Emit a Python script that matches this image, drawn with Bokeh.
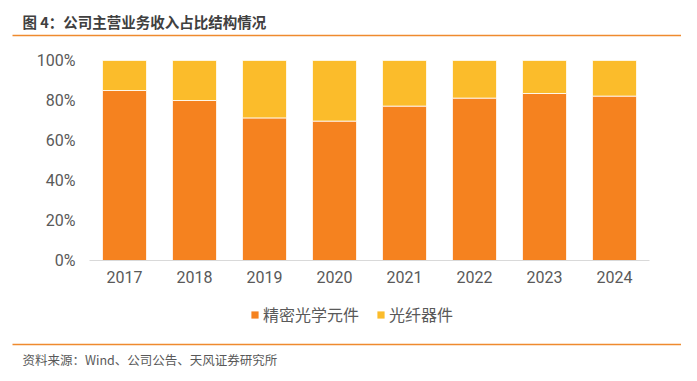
from bokeh.plotting import figure
from bokeh.layouts import column
from bokeh.models import (ColumnDataSource, FactorRange, NumeralTickFormatter, FixedTicker,
                          Legend, LegendItem, Range1d)
from bokeh.core.properties import value
from bokeh.embed import file_html
from bokeh.resources import INLINE

years = ["2017", "2018", "2019", "2020", "2021", "2022", "2023", "2024"]
optics = [0.85, 0.80, 0.713, 0.697, 0.772, 0.812, 0.835, 0.822]
fiber = [0.15, 0.20, 0.287, 0.303, 0.228, 0.188, 0.165, 0.178]
series_names = ["精密光学元件", "光纤器件"]
series_colors = ["#F5821F", "#FBBC2B"]
y_ticks = [0, 0.2, 0.4, 0.6, 0.8, 1.0]
title_text = "图 4：公司主营业务收入占比结构情况"
source_text = "资料来源：Wind、公司公告、天风证券研究所"

W = 681
cjk = "Noto Sans CJK SC"
num_font = "Roboto"
label_color = "#595959"
rule_color = "#EF8A2E"


def blank_fig(h):
    f = figure(width=W, height=h, x_range=Range1d(0, W), y_range=Range1d(h, 0),
               output_backend="svg", toolbar_location=None, min_border=0,
               x_axis_location=None, y_axis_location=None, frame_align=False)
    f.outline_line_color = None
    f.xgrid.visible = False
    f.ygrid.visible = False
    return f


# header
top = blank_fig(40)
top.text(x=[22], y=[21], text=[title_text], text_font=value(cjk), text_font_size="14.5px",
         text_font_style="bold", text_color="#404040", text_baseline="middle")
top.segment(x0=[12], y0=[35], x1=[W], y1=[35], line_color=rule_color, line_width=1.5)

# main chart
src = ColumnDataSource(dict(year=years, optics=optics, fiber=fiber))
p = figure(width=W, height=251, x_range=FactorRange(*years, range_padding=0),
           y_range=Range1d(0, 1), output_backend="svg", toolbar_location=None,
           min_border_left=89, min_border_right=32, min_border_top=20, min_border_bottom=31,
           frame_align=False)
p.outline_line_color = None
p.xgrid.visible = False
p.ygrid.visible = False

p.vbar_stack(["optics", "fiber"], x="year", width=0.63, source=src,
             color=series_colors, line_color="white", line_width=0.8)

p.yaxis.ticker = FixedTicker(ticks=y_ticks)
p.yaxis.formatter = NumeralTickFormatter(format="0%")
p.yaxis.axis_line_color = None
p.yaxis.major_tick_line_color = None
p.yaxis.minor_tick_line_color = None
p.yaxis.major_tick_out = 0
p.yaxis.major_label_standoff = 14
p.yaxis.major_label_text_font = num_font
p.yaxis.major_label_text_font_size = "16px"
p.yaxis.major_label_text_color = label_color

p.xaxis.axis_line_color = "#D9D9D9"
p.xaxis.axis_line_width = 1
p.xaxis.major_tick_line_color = None
p.xaxis.major_tick_out = 0
p.xaxis.major_label_standoff = 10
p.xaxis.major_label_text_font = num_font
p.xaxis.major_label_text_font_size = "16px"
p.xaxis.major_label_text_color = label_color

# footer with legend, rule and source
FH = 82
bot = blank_fig(FH)
# legend swatches: zero-height bars placed far outside the visible range
swatches = [bot.vbar(x=[-5000], top=[0], width=1, fill_color=c, line_color=None)
            for c in series_colors]
legend = Legend(items=[LegendItem(label=n, renderers=[r]) for n, r in zip(series_names, swatches)],
                orientation="horizontal", location=(250, FH - 35), padding=0, margin=0,
                glyph_width=9, glyph_height=9, label_standoff=4, spacing=17,
                label_text_font=cjk, label_text_font_size="16px", label_text_color=label_color,
                label_height=20, border_line_color=None, background_fill_alpha=0)
bot.add_layout(legend, "center")
bot.segment(x0=[12], y0=[53], x1=[W], y1=[53], line_color=rule_color, line_width=1.5)
bot.text(x=[22], y=[68], text=[source_text], text_font=value(cjk), text_font_size="12.5px",
         text_color="#595959", text_baseline="middle")

layout = column(top, p, bot, spacing=0)
open("out.html", "w").write(file_html(layout, INLINE))
